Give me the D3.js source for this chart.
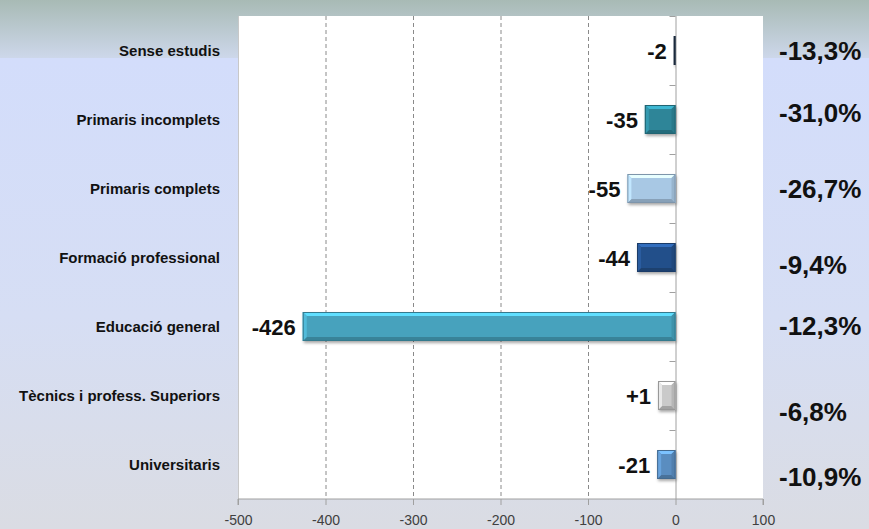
<!DOCTYPE html>
<html>
<head>
<meta charset="utf-8">
<script src="https://cdn.jsdelivr.net/npm/d3@7"></script>
<style>
  body { margin: 0; padding: 0; }
  svg { display: block; font-family: "Liberation Sans", Arial, sans-serif; }
</style>
</head>
<body>
<div id="chart"></div>
<script>
// categories, top to bottom
var categories = ["Sense estudis", "Primaris incomplets", "Primaris complets",
                  "Formació professional", "Educació general",
                  "Tècnics i profess. Superiors", "Universitaris"];
// bar lengths as drawn, and the label printed next to each bar
var barValues = [-2, -35, -55, -44, -426, -20, -21];
var barLabels = ["-2", "-35", "-55", "-44", "-426", "+1", "-21"];
// percent change text on the right
var pctLabels = ["-13,3%", "-31,0%", "-26,7%", "-9,4%", "-12,3%", "-6,8%", "-10,9%"];
var xTicks = [-500, -400, -300, -200, -100, 0, 100];
var barColors = ["#22364f", "#2d8598", "#a8c8e4", "#24508a", "#46a2bd", "#cacaca", "#5a8dc0"];
// small vertical nudges of the free-floating percent text (layout only)
var pctNudge = [0, -7, 0, 7, -1, 16, 12];

var width = 869, height = 529;
var plot = { left: 238, right: 763, top: 16, bottom: 499 };

var svg = d3.select("#chart").append("svg")
  .attr("width", width)
  .attr("height", height);

var defs = svg.append("defs");

var bgTop = defs.append("linearGradient").attr("id", "bgTop")
  .attr("x1", 0).attr("y1", 0).attr("x2", 0).attr("y2", 1);
bgTop.append("stop").attr("offset", "0%").attr("stop-color", "#a8bab5");
bgTop.append("stop").attr("offset", "100%").attr("stop-color", "#cdd7ea");

var bgLow = defs.append("linearGradient").attr("id", "bgLow")
  .attr("x1", 0).attr("y1", 0).attr("x2", 0).attr("y2", 1);
bgLow.append("stop").attr("offset", "0%").attr("stop-color", "#d3ddfb");
bgLow.append("stop").attr("offset", "55%").attr("stop-color", "#d6def4");
bgLow.append("stop").attr("offset", "100%").attr("stop-color", "#dadce3");

var shadow = defs.append("filter").attr("id", "shadow")
  .attr("x", "-10%").attr("y", "-30%").attr("width", "130%").attr("height", "170%");
shadow.append("feDropShadow")
  .attr("dx", 1).attr("dy", 2).attr("stdDeviation", 1.5)
  .attr("flood-color", "#000").attr("flood-opacity", 0.35);

// background
svg.append("rect").attr("x", 0).attr("y", 0).attr("width", width).attr("height", 58)
  .attr("fill", "url(#bgTop)");
svg.append("rect").attr("x", 0).attr("y", 58).attr("width", width).attr("height", height - 58)
  .attr("fill", "url(#bgLow)");

// plot area
svg.append("rect")
  .attr("x", plot.left).attr("y", plot.top)
  .attr("width", plot.right - plot.left).attr("height", plot.bottom - plot.top)
  .attr("fill", "#ffffff");

var x = d3.scaleLinear().domain([-500, 100]).range([plot.left, plot.right]);
var y = d3.scaleBand().domain(categories).range([plot.top, plot.bottom])
  .paddingInner(0.58).paddingOuter(0.29);
var yEdges = d3.scaleBand().domain(categories).range([plot.top, plot.bottom]);

// dashed gridlines
svg.append("g").selectAll("line.grid")
  .data(xTicks.filter(function (d) { return d > -500 && d < 0; }))
  .enter()
  .append("line")
  .attr("class", "grid")
  .attr("x1", function (d) { return x(d) + 0.5; })
  .attr("x2", function (d) { return x(d) + 0.5; })
  .attr("y1", plot.top)
  .attr("y2", plot.bottom)
  .attr("stroke", "#8a8a8a")
  .attr("stroke-width", 1)
  .attr("stroke-dasharray", "4,3");

// left border of plot
svg.append("line")
  .attr("x1", plot.left + 0.5).attr("x2", plot.left + 0.5)
  .attr("y1", plot.top).attr("y2", plot.bottom)
  .attr("stroke", "#c8c8c8");

// bottom axis
var xAxis = d3.axisBottom(x).tickValues(xTicks).tickSize(6).tickPadding(10)
  .tickFormat(function (d) { return String(d); });
var gx = svg.append("g")
  .attr("transform", "translate(0," + plot.bottom + ")")
  .call(xAxis);
gx.select(".domain").attr("stroke", "#a0a0a0").attr("d", "M" + plot.left + ",6V0H" + plot.right + "V6");
gx.selectAll(".tick line").attr("stroke", "#a0a0a0");
gx.selectAll(".tick text")
  .attr("fill", "#404040")
  .style("font-size", "14px")
  .style("font-family", "'Liberation Sans', Arial, sans-serif");

// zero axis with category ticks
svg.append("line")
  .attr("x1", x(0) + 0.5).attr("x2", x(0) + 0.5)
  .attr("y1", plot.top).attr("y2", plot.bottom)
  .attr("stroke", "#a0a0a0");
svg.append("g").selectAll("line.cat")
  .data(categories)
  .enter()
  .append("line")
  .attr("x1", x(0) - 6)
  .attr("x2", x(0))
  .attr("y1", function (d) { return Math.round(yEdges(d)) + 0.5; })
  .attr("y2", function (d) { return Math.round(yEdges(d)) + 0.5; })
  .attr("stroke", "#a0a0a0");

// bevelled bars
var bars = svg.append("g").selectAll("g.bar")
  .data(barValues)
  .enter()
  .append("g")
  .attr("class", "bar");

bars.each(function (v, i) {
  var g = d3.select(this);
  var x0 = x(Math.min(v, 0)), x1 = x(Math.max(v, 0));
  var y0 = y(categories[i]), y1 = y0 + y.bandwidth();
  var c = d3.color(barColors[i]);
  var b = Math.min(4, (x1 - x0) / 2);

  g.append("rect")
    .attr("x", x0).attr("y", y0)
    .attr("width", x1 - x0).attr("height", y1 - y0)
    .attr("fill", c)
    .attr("filter", "url(#shadow)");

  if (x1 - x0 > 4) {
    // top bevel
    g.append("path")
      .attr("d", "M" + x0 + "," + y0 + "L" + x1 + "," + y0 + "L" + (x1 - b) + "," + (y0 + b) +
                 "L" + (x0 + b) + "," + (y0 + b) + "Z")
      .attr("fill", c.brighter(0.9));
    // bottom bevel
    g.append("path")
      .attr("d", "M" + x0 + "," + y1 + "L" + x1 + "," + y1 + "L" + (x1 - b) + "," + (y1 - b) +
                 "L" + (x0 + b) + "," + (y1 - b) + "Z")
      .attr("fill", c.darker(0.6));
    // left bevel
    g.append("path")
      .attr("d", "M" + x0 + "," + y0 + "L" + (x0 + b) + "," + (y0 + b) + "L" + (x0 + b) + "," + (y1 - b) +
                 "L" + x0 + "," + y1 + "Z")
      .attr("fill", c.brighter(0.4));
    // right bevel
    g.append("path")
      .attr("d", "M" + x1 + "," + y0 + "L" + (x1 - b) + "," + (y0 + b) + "L" + (x1 - b) + "," + (y1 - b) +
                 "L" + x1 + "," + y1 + "Z")
      .attr("fill", c.darker(0.3));
  }
  g.append("rect")
    .attr("x", x0 + 0.5).attr("y", y0 + 0.5)
    .attr("width", Math.max(0, x1 - x0 - 1)).attr("height", y1 - y0 - 1)
    .attr("fill", "none")
    .attr("stroke", c.darker(0.8))
    .attr("stroke-width", 1);
});

// value labels left of the bars
svg.append("g").selectAll("text.value")
  .data(barValues)
  .enter()
  .append("text")
  .attr("class", "value")
  .attr("x", function (d) { return x(Math.min(d, 0)) - 7; })
  .attr("y", function (d, i) { return y(categories[i]) + y.bandwidth() / 2 + 1; })
  .attr("dy", "0.36em")
  .attr("text-anchor", "end")
  .attr("fill", "#111")
  .style("font-size", "22px")
  .style("font-weight", "bold")
  .text(function (d, i) { return barLabels[i]; });

// category labels
svg.append("g").selectAll("text.cat")
  .data(categories)
  .enter()
  .append("text")
  .attr("class", "cat")
  .attr("x", 220)
  .attr("y", function (d) { return y(d) + y.bandwidth() / 2; })
  .attr("dy", "0.36em")
  .attr("text-anchor", "end")
  .attr("fill", "#111")
  .style("font-size", "15px")
  .style("font-weight", "bold")
  .text(function (d) { return d; });

// percent labels on the right
svg.append("g").selectAll("text.pct")
  .data(pctLabels)
  .enter()
  .append("text")
  .attr("class", "pct")
  .attr("x", 779)
  .attr("y", function (d, i) { return y(categories[i]) + y.bandwidth() / 2 + pctNudge[i]; })
  .attr("dy", "0.36em")
  .attr("fill", "#111")
  .style("font-size", "26px")
  .style("font-weight", "bold")
  .text(function (d) { return d; });
</script>
</body>
</html>
